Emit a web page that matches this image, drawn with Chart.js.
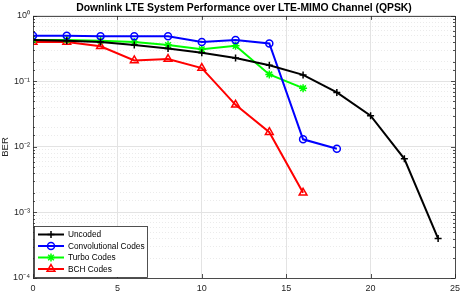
<!DOCTYPE html>
<html>
<head>
<meta charset="utf-8">
<script src="https://cdn.jsdelivr.net/npm/chart.js@4/dist/chart.umd.min.js"></script>
<style>
html,body{margin:0;padding:0;background:#fff;overflow:hidden;width:461px;height:300px;}
#wrap{position:absolute;left:0;top:0;width:461px;height:312px;}
</style>
</head>
<body>
<div id="wrap"><canvas id="c" width="461" height="312"></canvas></div>
<script>
// ---- data ----
const snrUncoded = [0,2,4,6,8,10,12,14,16,18,20,22,24];
const berUncoded = [0.43,0.42,0.40,0.36,0.32,0.275,0.228,0.177,0.126,0.068,0.030,0.0066,0.0004];
const snrConv = [0,2,4,6,8,10,12,14,16,18];
const berConv = [0.50,0.50,0.49,0.49,0.49,0.40,0.43,0.38,0.0131,0.0094];
const snrTurbo = [0,2,4,6,8,10,12,14,16];
const berTurbo = [0.43,0.43,0.42,0.40,0.36,0.31,0.35,0.128,0.079];
const snrBch = [0,2,4,6,8,10,12,14,16];
const berBch = [0.40,0.40,0.345,0.21,0.22,0.16,0.044,0.0168,0.0020];
const seriesNames = ['Uncoded','Convolutional Codes','Turbo Codes','BCH Codes'];
const xTicks = [0,5,10,15,20,25];
const titleText = 'Downlink LTE System Performance over LTE-MIMO Channel (QPSK)';
const xLabel = 'Eb/No (dB)';
const yLabel = 'BER';

const FONT = '"Liberation Sans", Arial, sans-serif';
const pts = (xs, ys) => xs.map((x, i) => ({x: x, y: ys[i]}));
const SUP = {'0':'\u2070','1':'\u00b9','2':'\u00b2','3':'\u00b3','4':'\u2074','-':'\u207b'};
const sup = s => String(s).split('').map(ch => SUP[ch] || ch).join('');
const isMajor = v => { const l = Math.log10(v); return Math.abs(l - Math.round(l)) < 1e-6; };

const AXIS = '#262626';

const boxPlugin = {
  id: 'box',
  afterDatasetsDraw(chart) {
    const {ctx, chartArea: a, scales} = chart;
    ctx.save();
    ctx.strokeStyle = AXIS;
    ctx.lineWidth = 0.8;
    ctx.beginPath();
    xTicks.forEach(v => {
      const px = Math.round(scales.x.getPixelForValue(v)) + 0.5;
      ctx.moveTo(px, a.bottom); ctx.lineTo(px, a.bottom - 4);
      ctx.moveTo(px, a.top); ctx.lineTo(px, a.top + 4);
    });
    scales.y.ticks.forEach(t => {
      const py = Math.round(scales.y.getPixelForValue(t.value)) + 0.5;
      const len = isMajor(t.value) ? 4 : 2;
      ctx.moveTo(a.left, py); ctx.lineTo(a.left + len, py);
      ctx.moveTo(a.right, py); ctx.lineTo(a.right - len, py);
    });
    ctx.stroke();
    ctx.strokeRect(Math.round(a.left) + 0.5, Math.round(a.top) + 0.5,
                   Math.round(a.right - a.left), Math.round(a.bottom - a.top));
    ctx.restore();
  },
  afterDraw(chart) {
    const {ctx, chartArea: a} = chart;
    const bx = a.left + 1, by = 226, bw = 113, bh = a.bottom - 227;
    ctx.save();
    ctx.fillStyle = '#fff';
    ctx.fillRect(bx, by, bw, bh);
    ctx.strokeStyle = AXIS;
    ctx.lineWidth = 0.8;
    ctx.strokeRect(Math.round(bx) + 0.5, by + 0.5, bw, bh);
    chart.data.datasets.forEach((ds, i) => {
      const y = by + 8.5 + i * 11.5;
      ctx.strokeStyle = ds.borderColor;
      ctx.lineWidth = 2;
      ctx.setLineDash([]);
      ctx.beginPath();
      ctx.moveTo(bx + 4, y); ctx.lineTo(bx + 30, y);
      ctx.stroke();
      ctx.fillStyle = 'rgba(0,0,0,0)';
      ctx.lineWidth = ds.pointBorderWidth;
      Chart.helpers.drawPoint(ctx, {
        pointStyle: ds.pointStyle, radius: ds.pointRadius,
        borderWidth: ds.pointBorderWidth, rotation: 0
      }, bx + 17, y);
      ctx.fillStyle = '#000';
      ctx.font = '8.3px ' + FONT;
      ctx.textBaseline = 'middle';
      ctx.fillText(ds.label, bx + 34, y + 0.5);
    });
    ctx.restore();
  }
};

function mkDs(label, xs, ys, color, style, r) {
  return {
    label: label, data: pts(xs, ys), borderColor: color, backgroundColor: color,
    pointStyle: style, pointRadius: r, pointBorderWidth: 1.5, pointBorderColor: color,
    pointBackgroundColor: 'rgba(0,0,0,0)', borderWidth: 2, tension: 0, fill: false
  };
}

new Chart(document.getElementById('c'), {
  type: 'line',
  data: {
    datasets: [
      mkDs(seriesNames[0], snrUncoded, berUncoded, '#000000', 'cross', 3.5),
      mkDs(seriesNames[1], snrConv, berConv, '#0000ff', 'circle', 3.5),
      mkDs(seriesNames[2], snrTurbo, berTurbo, '#00ff00', 'star', 4),
      mkDs(seriesNames[3], snrBch, berBch, '#ff0000', 'triangle', 4.5)
    ]
  },
  options: {
    responsive: false,
    animation: false,
    devicePixelRatio: 1,
    layout: {padding: {left: 0, right: 0, top: 0, bottom: 0}},
    plugins: {
      legend: {display: false},
      tooltip: {enabled: false},
      title: {
        display: true, text: titleText, color: '#000', fullSize: false,
        font: {family: FONT, size: 10.4, weight: 'bold'},
        padding: {top: 1.5, bottom: 2}
      }
    },
    scales: {
      x: {
        type: 'linear', min: 0, max: 25,
        afterBuildTicks: s => { s.ticks = xTicks.map(v => ({value: v})); },
        afterFit: s => { s.height = 34; s.paddingLeft = 0; s.paddingRight = 6; },
        ticks: {color: AXIS, font: {family: FONT, size: 9}, padding: 5, maxRotation: 0, autoSkip: false},
        grid: {color: '#e3e3e3', lineWidth: 1, drawTicks: false},
        border: {display: false},
        title: {display: true, text: xLabel, color: AXIS, font: {family: FONT, size: 9.5}, padding: {top: 0, bottom: 2}}
      },
      y: {
        type: 'logarithmic', min: 1e-4, max: 1,
        afterFit: s => { s.width = 33; },
        ticks: {
          color: AXIS, font: {family: FONT, size: 9}, padding: 3, autoSkip: false,
          callback: v => isMajor(v) ? '10' + sup(Math.round(Math.log10(v))) : ''
        },
        grid: {
          drawTicks: false,
          color: c => (c.tick && isMajor(c.tick.value)) ? '#e3e3e3' : '#e6e6e6',
          lineWidth: c => (c.tick && isMajor(c.tick.value)) ? 1 : 0.8
        },
        border: {
          display: false,
          dash: c => (c.tick && !isMajor(c.tick.value)) ? [1, 2] : []
        },
        title: {display: true, text: yLabel, color: AXIS, font: {family: FONT, size: 9.5}, padding: {top: 0, bottom: 2}}
      }
    }
  },
  plugins: [boxPlugin]
});
</script>
</body>
</html>
